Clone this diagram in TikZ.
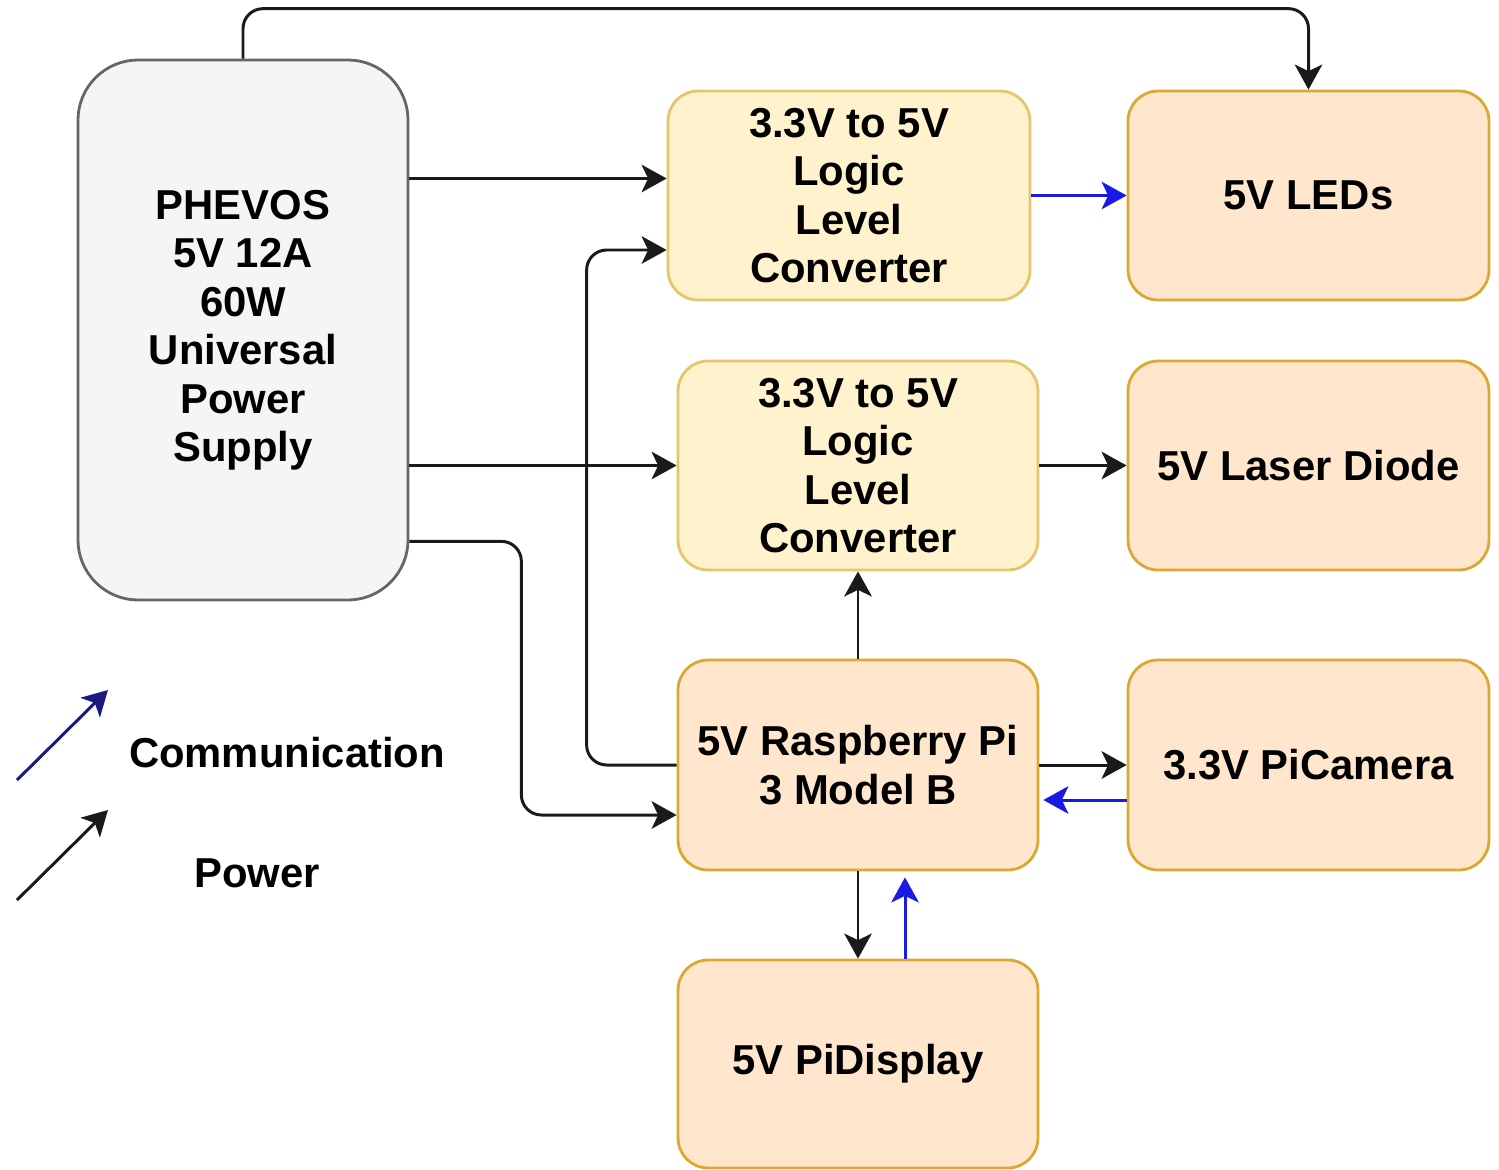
\documentclass[tikz,border=0pt]{standalone}
\usepackage{fontspec}
\setmainfont{Liberation Sans}
\usetikzlibrary{arrows.meta,calc}
\definecolor{psfill}{HTML}{F5F5F5}
\definecolor{psline}{HTML}{666666}
\definecolor{yfill}{HTML}{FFF2CC}
\definecolor{yline}{HTML}{E3C76A}
\definecolor{ofill}{HTML}{FFE6CC}
\definecolor{oline}{HTML}{DBA834}
\definecolor{comblue}{HTML}{1A1AE6}
\definecolor{navy}{HTML}{1A1A80}
\definecolor{wire}{HTML}{1A1A1A}
\tikzset{
  lbl/.style={font=\bfseries\fontsize{23.8}{27.6}\selectfont, align=center, text=black},
  psbox/.style={lbl, draw=psline, fill=psfill, line width=1.6pt, rounded corners=1.2cm},
  ybox/.style={lbl, draw=yline, fill=yfill, line width=1.6pt, rounded corners=0.6cm},
  obox/.style={lbl, draw=oline, fill=ofill, line width=1.6pt, rounded corners=0.6cm},
  tip/.style={-{Stealth[length=0.5cm,width=0.55cm,inset=0.13cm]}},
  pwline/.style={draw=wire, line width=1.7pt, tip},
  commline/.style={draw=comblue, line width=1.7pt, tip},
}
\begin{document}
\begin{tikzpicture}[x=0.02cm,y=-0.02cm]
\useasboundingbox (0,0) rectangle (1499,1170);
% boxes
\node[psbox, minimum width=6.6cm, minimum height=10.8cm] (ps) at (243,330) {PHEVOS\\5V 12A\\60W\\Universal\\Power\\Supply};
\node[ybox, minimum width=7.24cm, minimum height=4.18cm] (llc1) at (849,195.5) {3.3V to 5V\\Logic\\Level\\Converter};
\node[obox, minimum width=7.22cm, minimum height=4.18cm] (led) at (1308.5,195.5) {5V LEDs};
\node[ybox, minimum width=7.2cm, minimum height=4.18cm] (llc2) at (858,465.5) {3.3V to 5V\\Logic\\Level\\Converter};
\node[obox, minimum width=7.22cm, minimum height=4.18cm] (laser) at (1308.5,465.5) {5V Laser Diode};
\node[obox, minimum width=7.2cm, minimum height=4.2cm] (rpi) at (858,765) {5V Raspberry Pi\\3 Model B};
\node[obox, minimum width=7.22cm, minimum height=4.2cm] (cam) at (1308.5,765) {3.3V PiCamera};
\node[obox, minimum width=7.2cm, minimum height=4.16cm] (disp) at (858,1064) {5V PiDisplay};
% helper coordinates
\coordinate (a1) at ($(llc1.west)+(0,-17)$);
\coordinate (a2) at ($(llc1.west)+(0,54.5)$);
\coordinate (a3) at ($(rpi.west)+(0,50)$);
\coordinate (b3) at ($(ps.south east)+(0,-60)$);
% power connectors
\draw[pwline, rounded corners=0.4cm] (ps.north) -- ++(0,-50) -| (led.north);
\draw[pwline] (ps.east |- a1) -- (a1);
\draw[pwline, rounded corners=0.4cm] (rpi.west) -- ++(-90,0) |- (a2);
\draw[pwline] (ps.east |- llc2.west) -- (llc2.west);
\draw[pwline, rounded corners=0.4cm] (b3) -- ++(112,0) |- (a3);
\draw[pwline] (llc2.east) -- (laser.west);
\draw[pwline] (rpi.north) -- (llc2.south);
\draw[pwline] (rpi.east) -- (cam.west);
\draw[pwline] (rpi.south) -- (disp.north);
% communication connectors
\draw[commline] (llc1.east) -- (led.west);
\draw[commline] ($(cam.west)+(0,35)$) -- ($(rpi.east)+(4,35)$);
\draw[commline] ($(disp.north)+(47,0)$) -- ($(rpi.south)+(47,6)$);
% legend
\coordinate (l1s) at (17,780);
\coordinate (l1e) at (108,690);
\coordinate (l2s) at (17,900);
\coordinate (l2e) at (108,810);
\draw[navy, line width=1.7pt, tip] (l1s) -- (l1e);
\draw[wire, line width=1.7pt, tip] (l2s) -- (l2e);
\node[lbl] (tcomm) at (287,753) {Communication};
\node[lbl] (tpow) at (257,873) {Power};
\end{tikzpicture}
\end{document}
